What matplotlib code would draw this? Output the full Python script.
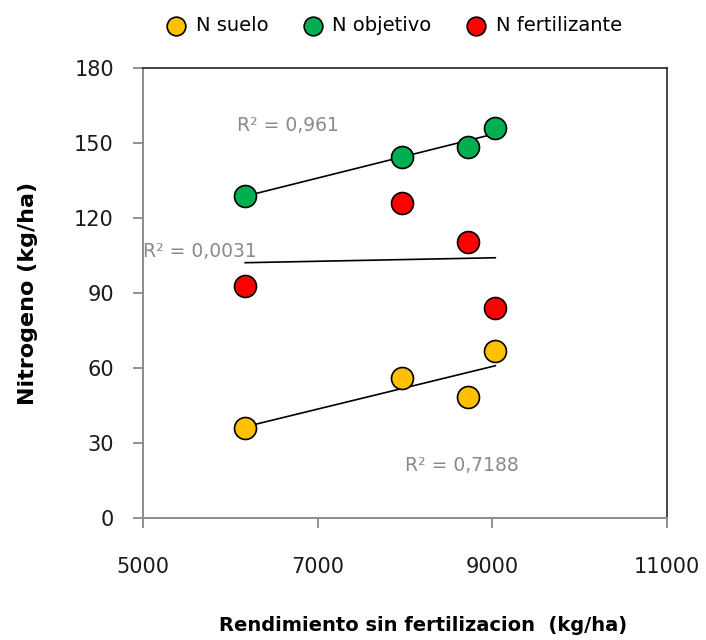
import numpy as np
import matplotlib.pyplot as plt

plt.rcParams['font.family'] = ['DejaVu Sans']

# rendimiento sin fertilizacion (kg/ha)
rendimiento = [6170, 7970, 8725, 9035]
n_suelo = [36, 56, 48.5, 67]
n_objetivo = [129, 144.5, 148.5, 156]
n_fertilizante = [93, 126, 110.5, 84]

series = [
    ('N suelo', n_suelo, '#FFC000'),
    ('N objetivo', n_objetivo, '#00B050'),
    ('N fertilizante', n_fertilizante, '#FF0000'),
]
r2_labels = ['R² = 0,7188', 'R² = 0,961', 'R² = 0,0031']
r2_pos = [(8000, 19), (6080, 155), (5000, 104.5)]

fig = plt.figure(figsize=(7.06, 6.4), dpi=100)
ax = fig.add_axes([0.2026, 0.1906, 0.742, 0.7031])

x = np.array(rendimiento)
for (name, y, color), lab, pos in zip(series, r2_labels, r2_pos):
    ax.scatter(x, y, s=250, color=color, edgecolor='black', linewidth=1.2,
               zorder=3, label=name)
    m, b = np.polyfit(x, y, 1)
    xs = np.array([x.min(), x.max()])
    ax.plot(xs, m * xs + b, color='black', lw=1.2, zorder=2)
    ax.text(pos[0], pos[1], lab, color='#8a8a8a', fontsize=13.5, zorder=4)

ax.set_xlim(5000, 11000)
ax.set_ylim(0, 180)
ax.set_xticks([5000, 7000, 9000, 11000])
ax.set_yticks(range(0, 181, 30))
ax.tick_params(axis='x', direction='out', length=7, width=1.2, color='#7f7f7f',
               pad=21, labelsize=15, labelcolor='#1a1a1a')
ax.tick_params(axis='y', direction='out', length=7, width=1.2, color='#7f7f7f',
               pad=14, labelsize=15, labelcolor='#1a1a1a')
for side in ['left', 'bottom']:
    ax.spines[side].set_color('#8c8c8c')
    ax.spines[side].set_linewidth(1.4)
for side in ['top', 'right']:
    ax.spines[side].set_color('#262626')
    ax.spines[side].set_linewidth(1.2)

ax.set_xlabel('Rendimiento sin fertilizacion  (kg/ha)', fontsize=14,
              fontweight='bold')
ax.xaxis.set_label_coords(0.535, -0.218)
ax.set_ylabel('Nitrogeno (kg/ha)', fontsize=16, fontweight='bold')
ax.yaxis.set_label_coords(-0.2, 0.5)

ax.legend(loc='lower center', bbox_to_anchor=(0.47, 1.035), ncol=3,
          frameon=False, fontsize=14, handletextpad=0.0, columnspacing=1.3,
          markerscale=0.85)

fig.savefig('out.png', dpi=100)
